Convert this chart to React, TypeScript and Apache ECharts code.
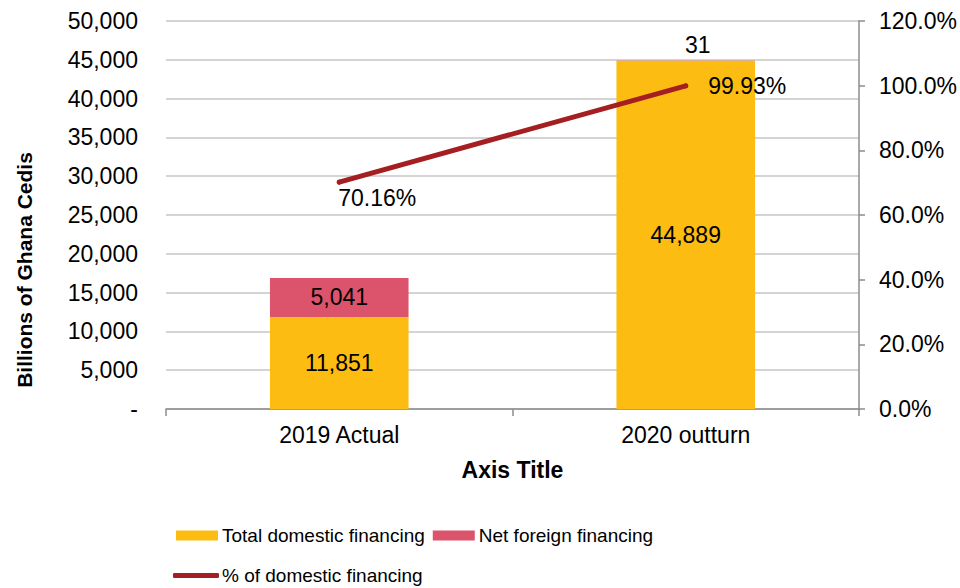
import React, { useEffect, useRef } from "react";
import * as echarts from "echarts";

const categories = ["2019 Actual", "2020 outturn"];
const domesticFinancing = [11851, 44889];
const foreignFinancing = [5041, 31];
const domesticShare = [70.16, 99.93];
const leftTicks = { min: 0, max: 50000, interval: 5000 };
const rightTicks = { min: 0, max: 120, interval: 20 };
const yAxisTitle = "Billions of Ghana Cedis";
const xAxisTitle = "Axis Title";

const FONT = "'Liberation Sans', Arial, Helvetica, sans-serif";
const YELLOW = "#FCBC11";
const PINK = "#DC546B";
const RED = "#A51E22";
const GRID = "#C6C6C6";
const AXIS = "#8C8C8C";

const fmtNum = (v: number) => v.toLocaleString("en-US");

export default function App() {
  const ref = useRef<HTMLDivElement>(null);
  useEffect(() => {
    if (!ref.current) return;
    const chart = echarts.init(ref.current, undefined, { renderer: "svg" });
    const textBase = { fontFamily: FONT, color: "#000", fontSize: 23 };
    chart.setOption({
      animation: false,
      textStyle: { fontFamily: FONT },
      grid: { left: 166, right: 98, top: 21, bottom: 179 },
      graphic: [
        {
          type: "text",
          x: 24,
          y: 270,
          rotation: Math.PI / 2,
          style: {
            text: yAxisTitle,
            fontFamily: FONT,
            fontSize: 21,
            fontWeight: "bold",
            fill: "#000",
            align: "center",
            verticalAlign: "middle",
          },
        },
      ],
      legend: [
        {
          data: ["Total domestic financing", "Net foreign financing"],
          left: 176,
          top: 526,
          padding: 0,
          orient: "horizontal",
          itemWidth: 42,
          itemHeight: 10,
          itemGap: 8,
          icon: "rect",
          textStyle: { fontFamily: FONT, fontSize: 19, color: "#000", padding: [0, 0, 0, -1] },
        },
        {
          data: [{ name: "% of domestic financing", icon: "roundRect" }],
          left: 173,
          top: 566,
          padding: 0,
          itemWidth: 46,
          itemHeight: 5,
          itemStyle: { color: RED, opacity: 1 },
          textStyle: { fontFamily: FONT, fontSize: 19, color: "#000", padding: [0, 0, 0, -2] },
        },
      ],
      xAxis: {
        type: "category",
        data: categories,
        boundaryGap: true,
        axisLine: { show: true, lineStyle: { color: AXIS, width: 1.5 } },
        axisTick: { show: true, alignWithLabel: false, length: 7, lineStyle: { color: AXIS, width: 1.5 } },
        axisLabel: { ...textBase, margin: 14 },
        name: xAxisTitle,
        nameLocation: "middle",
        nameGap: 49,
        nameTextStyle: { ...textBase, fontSize: 23, fontWeight: "bold" },
      },
      yAxis: [
        {
          type: "value",
          min: leftTicks.min,
          max: leftTicks.max,
          interval: leftTicks.interval,
          axisLine: { show: false },
          axisTick: { show: false },
          splitLine: { show: true, lineStyle: { color: GRID, width: 1.5 } },
          axisLabel: {
            ...textBase,
            margin: 28,
            formatter: (v: number) => (v === 0 ? "-" : fmtNum(v)),
          },
        },
        {
          type: "value",
          min: rightTicks.min,
          max: rightTicks.max,
          interval: rightTicks.interval,
          position: "right",
          axisLine: { show: true, lineStyle: { color: AXIS, width: 1.5 } },
          axisTick: { show: true, inside: false, length: 6, lineStyle: { color: AXIS, width: 1.5 } },
          splitLine: { show: false },
          axisLabel: {
            ...textBase,
            margin: 20,
            formatter: (v: number) => v.toFixed(1) + "%",
          },
        },
      ],
      series: [
        {
          name: "Total domestic financing",
          type: "bar",
          stack: "fin",
          barWidth: "40%",
          itemStyle: { color: YELLOW },
          label: { show: true, position: "inside", ...textBase, formatter: (p: any) => fmtNum(p.value) },
          data: domesticFinancing,
        },
        {
          name: "Net foreign financing",
          type: "bar",
          stack: "fin",
          barWidth: "40%",
          itemStyle: { color: PINK },
          label: { show: true, position: "inside", ...textBase, formatter: (p: any) => fmtNum(p.value) },
          data: foreignFinancing.map((v, i) =>
            i === 1
              ? { value: v, label: { position: "top", distance: 4, offset: [12, 0] } }
              : v
          ),
        },
        {
          name: "% of domestic financing",
          type: "line",
          yAxisIndex: 1,
          symbol: "circle",
          symbolSize: 5,
          showSymbol: true,
          lineStyle: { color: RED, width: 5, cap: "round" },
          itemStyle: { color: RED },
          label: { show: true, ...textBase, formatter: (p: any) => Number(p.value).toFixed(2) + "%" },
          data: domesticShare.map((v, i) =>
            i === 0
              ? { value: v, label: { show: true, position: "bottom", distance: 2, offset: [38, 0] } }
              : { value: v, label: { show: true, position: "right", distance: 20 } }
          ),
        },
      ],
    });
    return () => chart.dispose();
  }, []);
  return (
    <div
      ref={ref}
      style={{ position: "fixed", left: 0, top: 0, width: 960, height: 588, background: "#fff" }}
    />
  );
}
